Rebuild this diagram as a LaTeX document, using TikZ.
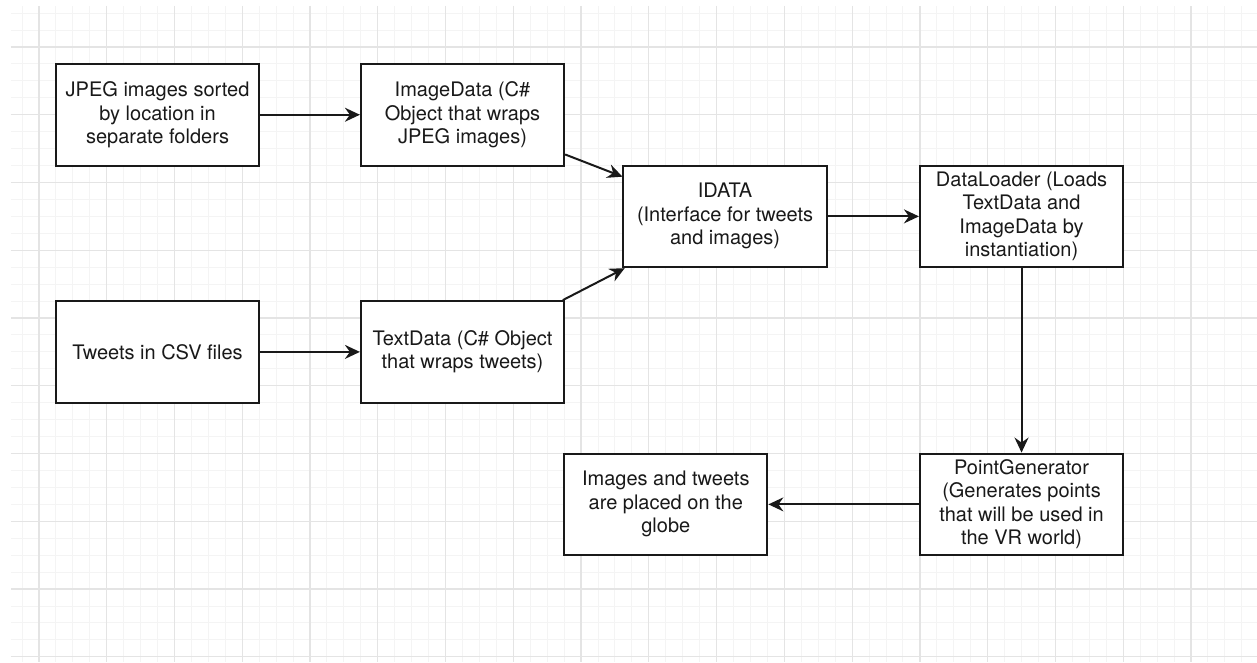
\documentclass[tikz,border=0pt]{standalone}
\usepackage{fontspec}
\setmainfont{TeX Gyre Heros}
\usetikzlibrary{arrows.meta}
\definecolor{majorgrid}{gray}{0.895}
\definecolor{minorgrid}{gray}{0.955}
\tikzset{
  databox/.style={
    draw = black!90,
    line width = 1pt,
    fill = white,
    minimum width = 101.6pt,
    minimum height = 50.8pt,
    inner sep = 0pt,
    align = center,
    font = \fontsize{10pt}{11.75pt}\selectfont,
    text = black!90
  },
  flow/.style={
    draw = black!90,
    line width = 1pt,
    -{Stealth[length=7.5pt,width=7pt,inset=2.5pt]}
  },
  every picture/.style = {
    x = 8.47pt,
    y = -8.47pt
  }
}
\begin{document}
\begin{tikzpicture}
    \useasboundingbox (-2.302,-2.774) rectangle (71.9,36.31);
    % background grid
    \foreach \i in {-1,...,71}{
        \draw[minorgrid, line width=0.5pt] (\i,-2.42) -- (\i,36.31);
    }
    \foreach \j in {-2,...,36}{
        \draw[minorgrid, line width=0.5pt] (-1.653,\j) -- (71.9,\j);
    }
    \foreach \i in {0,4,...,68}{
        \draw[majorgrid, line width=0.6pt] (\i,-2.42) -- (\i,36.31);
    }
    \foreach \j in {0,4,...,36}{
        \draw[majorgrid, line width=0.6pt] (-1.653,\j) -- (71.9,\j);
    }
    % boxes
    \node[databox] (jpeg) at (7,4) {JPEG images sorted\\by location in\\separate folders};
    \node[databox] (imgdata) at (25,4) {ImageData (C\#\\Object that wraps\\JPEG images)};
    \node[databox] (idata) at (40.5,10) {IDATA\\(Interface for tweets\\and images)};
    \node[databox] (tweets) at (7,18) {Tweets in CSV files};
    \node[databox] (textdata) at (25,18) {TextData (C\# Object\\that wraps tweets)};
    \node[databox] (loader) at (58,10) {DataLoader (Loads\\TextData and\\ImageData by\\instantiation)};
    \node[databox] (pointgen) at (58,27) {PointGenerator\\(Generates points\\that will be used in\\the VR world)};
    \node[databox] (globe) at (37,27) {Images and tweets\\are placed on the\\globe};
    % connectors
    \draw[flow] (jpeg) -- (imgdata);
    \draw[flow] (tweets) -- (textdata);
    \draw[flow] (imgdata) -- (idata);
    \draw[flow] (textdata) -- (idata);
    \draw[flow] (idata) -- (loader);
    \draw[flow] (loader) -- (pointgen);
    \draw[flow] (pointgen) -- (globe);
\end{tikzpicture}
\end{document}
